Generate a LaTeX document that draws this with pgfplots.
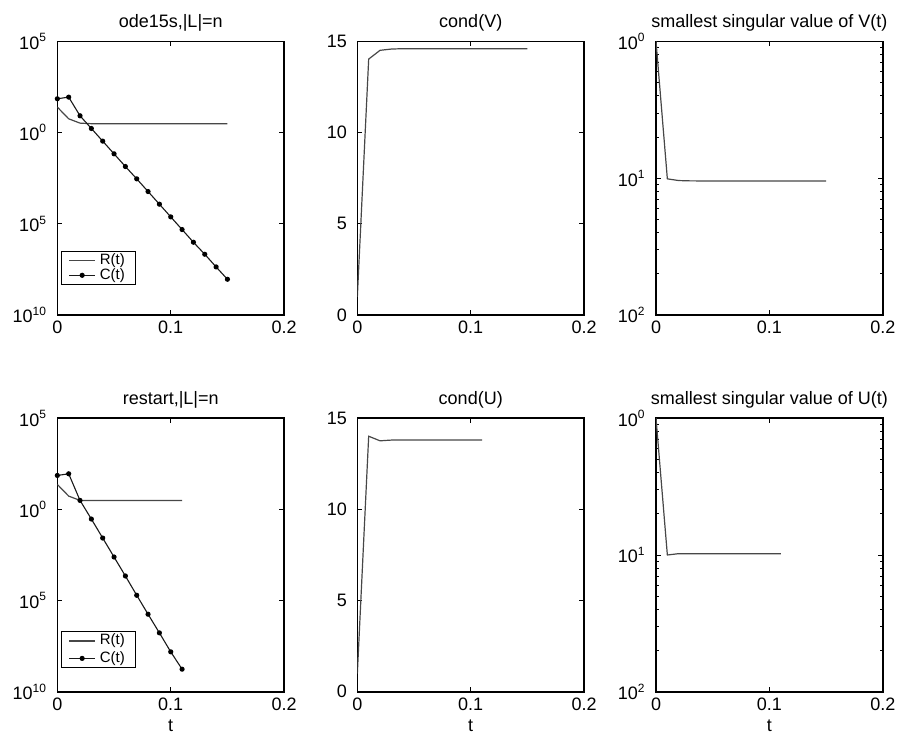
\documentclass[border=0pt]{standalone}
\usepackage{fontspec}
\setmainfont{Liberation Sans}
\usepackage{pgfplots}
\pgfplotsset{compat=1.18}
\newcommand{\tp}[1]{10\textsuperscript{#1}}
\pgfplotsset{
  legend image code/.code={\draw[mark repeat=2,mark phase=2,#1] plot coordinates {(0cm,0cm) (0.23cm,0cm) (0.46cm,0cm)};},
  every axis/.append style={
    scale only axis, width=113.4pt, height=136.8pt,
    xmin=0, xmax=0.2, xtick={0,0.1,0.2}, xticklabels={0,0.1,0.2},
    tick align=inside, major tick length=2.5pt, minor tick length=1.3pt,
    axis line style={line width=0.8pt},
    tick style={black, line width=0.4pt},
    tick label style={font=\fontsize{9}{11}\selectfont},
    xticklabel style={inner sep=1pt, yshift=-2pt},
    yticklabel style={inner sep=1pt, xshift=-4pt},
    title style={at={(0.5,1)}, anchor=base, yshift=1pt, font=\fontsize{9}{11}\selectfont},
    xlabel style={at={(0.5,0)}, anchor=base, yshift=-20pt, font=\fontsize{9}{11}\selectfont},
    legend style={draw=black, line width=0.5pt, font=\fontsize{7.5}{8.5}\selectfont,
      inner xsep=3.5pt, inner ysep=0.8pt,
      nodes={inner xsep=2pt, inner ysep=0.3pt, text height=5.4pt, text depth=1.5pt},
      cells={anchor=west}, anchor=south west},
  },
  ln/.style={black!72, line width=0.6pt, mark=none},
  lnm/.style={black!90, line width=0.55pt, mark=*, mark size=1pt, mark options={fill=black, draw=black}},
}
\begin{document}
\begin{tikzpicture}
\path[use as bounding box] (0,0) rectangle (448.5pt,368.5pt);
% ---------- top row ----------
\begin{axis}[ymode=log, ymin=1e-10, ymax=1e5, ytick={1e-10,1e-5,1,1e5},
  yticklabels={\tp{10},\tp{5},\tp{0},\tp{5}}, minor ytick={},
  at={(28.67pt,211pt)}, anchor=south west,
  title={ode15s,|L|=n}, legend style={at={(0.016,0.11)}}]
\addplot[ln] coordinates {(0,24.9) (0.01,5.70) (0.02,3.30) (0.03,3.08) (0.04,3.04) (0.05,3.03) (0.06,3.03) (0.07,3.03) (0.08,3.03) (0.09,3.03) (0.10,3.03) (0.11,3.03) (0.12,3.03) (0.13,3.03) (0.14,3.03) (0.15,3.03)};
\addlegendentry{R(t)}
\addplot[lnm] coordinates {(0,71.4) (0.01,88.1) (0.02,8.34) (0.03,1.68) (0.04,0.340) (0.05,0.0686) (0.06,0.0138) (0.07,2.91e-3) (0.08,5.87e-4) (0.09,1.19e-4) (0.10,2.39e-5) (0.11,4.83e-6) (0.12,9.75e-7) (0.13,2.14e-7) (0.14,4.32e-8) (0.15,9.08e-9)};
\addlegendentry{C(t)}
\end{axis}
\begin{axis}[ymin=0, ymax=15, ytick={0,5,10,15}, yticklabels={0,5,10,15},
  at={(178.67pt,211pt)}, anchor=south west, title={cond(V)}]
\addplot[ln] coordinates {(0,1) (0.01,14.03) (0.02,14.51) (0.03,14.58) (0.04,14.6) (0.05,14.6) (0.06,14.6) (0.07,14.6) (0.08,14.6) (0.09,14.6) (0.10,14.6) (0.11,14.6) (0.12,14.6) (0.13,14.6) (0.14,14.6) (0.15,14.6)};
\end{axis}
\begin{axis}[ymode=log, ymin=1e-2, ymax=1, ytick={1e-2,1e-1,1},
  yticklabels={\tp{2},\tp{1},\tp{0}},
  at={(328pt,211pt)}, anchor=south west, title={smallest singular value of V(t)}]
\addplot[ln] coordinates {(0,1) (0.01,0.0989) (0.02,0.0961) (0.03,0.0956) (0.04,0.0955) (0.05,0.0955) (0.06,0.0955) (0.07,0.0955) (0.08,0.0955) (0.09,0.0955) (0.10,0.0955) (0.11,0.0955) (0.12,0.0955) (0.13,0.0955) (0.14,0.0955) (0.15,0.0955)};
\end{axis}
% ---------- bottom row ----------
\begin{axis}[ymode=log, ymin=1e-10, ymax=1e5, ytick={1e-10,1e-5,1,1e5},
  yticklabels={\tp{10},\tp{5},\tp{0},\tp{5}}, minor ytick={},
  at={(28.67pt,22.6pt)}, anchor=south west,
  title={restart,|L|=n}, xlabel={t}, legend style={at={(0.016,0.087)}, row sep=1.2pt}]
\addplot[ln] coordinates {(0,23.4) (0.01,5.37) (0.02,3.11) (0.03,3.09) (0.04,3.09) (0.05,3.09) (0.06,3.09) (0.07,3.09) (0.08,3.09) (0.09,3.09) (0.10,3.09) (0.11,3.09)};
\addlegendentry{R(t)}
\addplot[lnm] coordinates {(0,72.6) (0.01,89.7) (0.02,3.11) (0.03,0.296) (0.04,0.0270) (0.05,2.46e-3) (0.06,2.24e-4) (0.07,1.96e-5) (0.08,1.79e-6) (0.09,1.70e-7) (0.10,1.55e-8) (0.11,1.74e-9)};
\addlegendentry{C(t)}
\end{axis}
\begin{axis}[ymin=0, ymax=15, ytick={0,5,10,15}, yticklabels={0,5,10,15},
  at={(178.67pt,22.6pt)}, anchor=south west, title={cond(U)}, xlabel={t}]
\addplot[ln] coordinates {(0,1) (0.01,14.01) (0.02,13.76) (0.03,13.8) (0.04,13.8) (0.05,13.8) (0.06,13.8) (0.07,13.8) (0.08,13.8) (0.09,13.8) (0.10,13.8) (0.11,13.8)};
\end{axis}
\begin{axis}[ymode=log, ymin=1e-2, ymax=1, ytick={1e-2,1e-1,1},
  yticklabels={\tp{2},\tp{1},\tp{0}},
  at={(328pt,22.6pt)}, anchor=south west, title={smallest singular value of U(t)}, xlabel={t}]
\addplot[ln] coordinates {(0,1) (0.01,0.100) (0.02,0.1023) (0.03,0.1023) (0.04,0.1023) (0.05,0.1023) (0.06,0.1023) (0.07,0.1023) (0.08,0.1023) (0.09,0.1023) (0.10,0.1023) (0.11,0.1023)};
\end{axis}
\end{tikzpicture}
\end{document}
